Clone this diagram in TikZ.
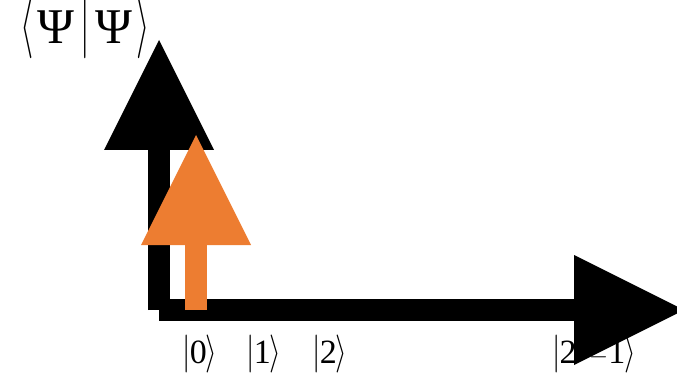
\documentclass[tikz,border=0pt]{standalone}
\usepackage{graphicx}
\usepackage{fontspec}
\setmainfont{Liberation Serif}
\usetikzlibrary{arrows.meta}
\definecolor{axorange}{HTML}{ED7D31}
\newcommand{\tensym}[1]{{\fontsize{10}{12}\selectfont$#1$}}
\newcommand{\ketbar}{\scalebox{3}[3.8]{\tensym{\vert}}}
\newcommand{\ketclose}{\scalebox{3}[3.8]{\tensym{\rangle}}}
\newcommand{\braopen}{\scalebox{3.4}[6.1]{\tensym{\langle}}}
\newcommand{\bramid}{\scalebox{3.4}[6.1]{\tensym{\vert}}}
\newcommand{\braclose}{\scalebox{3.4}[6.1]{\tensym{\rangle}}}
\tikzset{
  axisarrow/.style={line width=22pt, -{Triangle[length=110pt,width=110pt,line width=0pt]}},
  ketlabel/.style={inner sep=0pt, anchor=base, font=\fontsize{34}{40}\selectfont},
  bralabel/.style={inner sep=0pt, anchor=base west, font=\fontsize{50}{58}\selectfont}
}
\begin{document}
\begin{tikzpicture}[x=1pt,y=-1pt]
\useasboundingbox (0,0) rectangle (677,382);
% labels (drawn first, arrows cover them)
\node[bralabel] (braket) at (20,44) {\braopen\kern4pt Ψ\kern6pt\bramid\kern6ptΨ\kern4pt\braclose};
\node[ketlabel] (k0) at (200,363) {\ketbar\kern-1pt 0\kern-1pt\ketclose};
\node[ketlabel] (k1) at (264,363) {\ketbar\kern-1pt 1\kern-1pt\ketclose};
\node[ketlabel] (k2) at (330,363) {\ketbar\kern-1pt 2\kern-1pt\ketclose};
\node[ketlabel, anchor=base west] (kn) at (552,363) {\ketbar\kern-1pt 2\textsuperscript{\itshape n}$-$1\kern-1pt\ketclose};
% coordinates
\coordinate (O) at (159,310);
\coordinate (ytip) at (159,40);
\coordinate (xtip) at (684,310);
\coordinate (ob) at (196,310);
\coordinate (ot) at (196,135);
% axes
\draw[axisarrow] (O) -- (xtip);
\draw[axisarrow] (O) -- (ytip);
% orange amplitude arrow
\draw[axisarrow, axorange] (ob) -- (ot);
\end{tikzpicture}
\end{document}
